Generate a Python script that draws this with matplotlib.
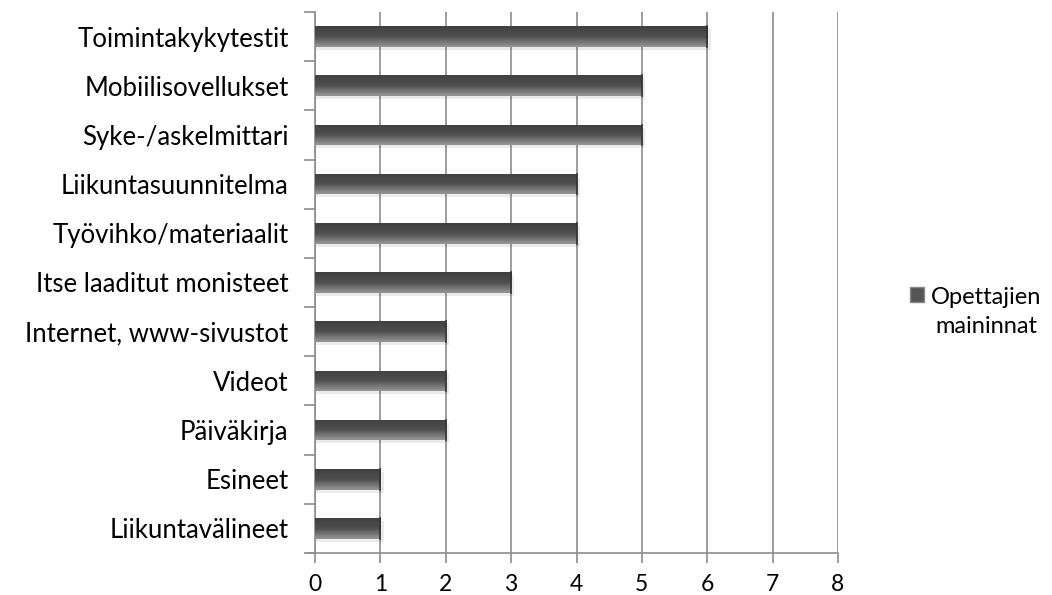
import numpy as np
import matplotlib.pyplot as plt
from matplotlib.ticker import FixedLocator
from matplotlib.legend_handler import HandlerPatch

categories = ["Liikuntavälineet", "Esineet", "Päiväkirja", "Videot",
              "Internet, www-sivustot", "Itse laaditut monisteet",
              "Työvihko/materiaalit", "Liikuntasuunnitelma",
              "Syke-/askelmittari", "Mobiilisovellukset", "Toimintakykytestit"]
values = [1, 1, 2, 2, 2, 3, 4, 4, 5, 5, 6]
series_name = "Opettajien\nmaininnat"

plt.rcParams['font.family'] = ['Lato', 'DejaVu Sans']

fig = plt.figure(figsize=(10.52, 5.95), dpi=100)
ax = fig.add_axes([315 / 1052, 1 - 553 / 595, (838 - 315) / 1052, (553 - 12) / 595])

y = np.arange(len(categories))
bars = ax.barh(y, values, height=0.42, color="#4a4a4a", zorder=3)

# bevel look: vertical gradient clipped to each bar, plus a soft shadow
grad = np.array([0.58, 0.52, 0.46, 0.42, 0.36, 0.31, 0.30, 0.29, 0.28, 0.27, 0.25]).reshape(-1, 1)
for b in bars:
    x0, y0 = b.get_x(), b.get_y()
    w, h = b.get_width(), b.get_height()
    ax.barh(y0 + h / 2 - 0.06, w + 0.05, height=h, left=x0, color="#000000",
            alpha=0.08, zorder=2)
    im = ax.imshow(grad, cmap="gray", vmin=0, vmax=1, aspect="auto",
                   extent=(x0, x0 + w, y0 + h, y0), zorder=4, interpolation="bicubic")
    im.set_clip_path(b)
    ax.plot([x0 + w, x0 + w], [y0 + h, y0], color="#333333", lw=1.2, zorder=5)

ax.set_xlim(0, 8)
ax.set_ylim(-0.5, len(categories) - 0.5)
ax.set_xticks(range(0, 9))
ax.set_yticks(y)
ax.set_yticklabels(categories)
ax.yaxis.set_minor_locator(FixedLocator(np.arange(-0.5, len(categories), 1)))

ax.grid(axis="x", color="#8c8c8c", lw=1.2, zorder=0)
ax.tick_params(axis="y", which="major", length=0, labelsize=18.5, pad=19)
ax.tick_params(axis="y", which="minor", length=8, width=1.2, color="#8c8c8c")
ax.tick_params(axis="x", length=7, width=1.2, color="#8c8c8c", labelsize=16.5, pad=8)
for side in ["top", "right"]:
    ax.spines[side].set_visible(False)
for side in ["left", "bottom"]:
    ax.spines[side].set_color("#8c8c8c")
    ax.spines[side].set_linewidth(1.2)
ax.spines["bottom"].set_bounds(-0.12, 8)


def top_square(legend, orig_handle, xdescent, ydescent, width, height, fontsize):
    # square sits next to the first line of the two-line label
    return plt.Rectangle((-xdescent, -ydescent + 0.75 * fontsize), width, height)


handle = plt.Rectangle((0, 0), 1, 1, facecolor="#555555", edgecolor="#888888")
leg = fig.legend([handle], [series_name], loc="center left",
                 bbox_to_anchor=(898 / 1052, 1 - 312 / 595), frameon=False,
                 fontsize=17, handlelength=0.6, handleheight=0.6, handletextpad=0.3,
                 borderpad=0, handler_map={plt.Rectangle: HandlerPatch(patch_func=top_square)})
for t in leg.get_texts():
    t.set_multialignment("center")
    t.set_linespacing(1.5)

fig.savefig("out.png", dpi=100)
